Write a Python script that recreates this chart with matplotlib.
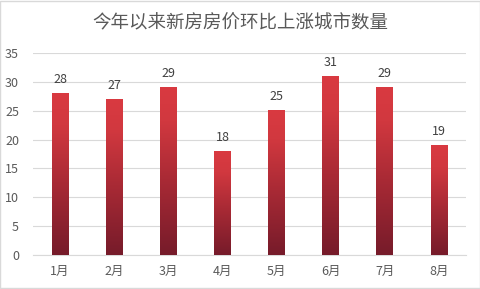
import matplotlib.pyplot as plt
import numpy as np
from matplotlib.colors import LinearSegmentedColormap

plt.rcParams['font.family'] = ['Noto Sans CJK SC', 'DejaVu Sans']

months = ['1月', '2月', '3月', '4月', '5月', '6月', '7月', '8月']
counts = [28, 27, 29, 18, 25, 31, 29, 19]
title = '今年以来新房房价环比上涨城市数量'

fig = plt.figure(figsize=(4.81, 2.89), dpi=100)
ax = fig.add_axes([33 / 481, 34 / 289, 433 / 481, 202 / 289])

cmap = LinearSegmentedColormap.from_list(
    'redgrad', [(0, '#761b2a'), (0.45, '#a92a35'), (0.8, '#d1383f'), (1, '#d93a41')])
grad = np.linspace(0, 1, 256).reshape(-1, 1)
width = 0.31
x = np.arange(len(months))
bars = ax.bar(x, counts, width=width, color='none', zorder=3)
for bar in bars:
    x0 = bar.get_x()
    h = bar.get_height()
    # each bar gets its own gradient, bright at the top, dark at the base
    ax.imshow(grad, cmap=cmap, origin='lower', aspect='auto',
              extent=[x0, x0 + width, 0, h], zorder=3)
    ax.text(x0 + width / 2, h + 1.3, str(h), ha='center', va='bottom',
            fontsize=9, color='#404040')

ax.set_xlim(-0.5, 7.5)
ax.set_ylim(0, 35)
ax.set_yticks(range(0, 36, 5))
ax.set_xticks(x)
ax.set_xticklabels(months)
ax.grid(axis='y', color='#d9d9d9', linewidth=0.8, zorder=0)
for s in ['top', 'right', 'left']:
    ax.spines[s].set_visible(False)
ax.spines['bottom'].set_color('#d9d9d9')
ax.tick_params(length=0, colors='#595959', labelsize=9)
ax.tick_params(axis='y', pad=10)
ax.tick_params(axis='x', pad=7)

fig.text(0.5, 1 - 23 / 289, title, ha='center', va='center', fontsize=13.3, color='#595959')
fig.patches.append(plt.Rectangle((0.001, 0.002), 0.997, 0.995, transform=fig.transFigure,
                                 fill=False, edgecolor='#d9d9d9', linewidth=1))

fig.savefig('out.png', dpi=100)
